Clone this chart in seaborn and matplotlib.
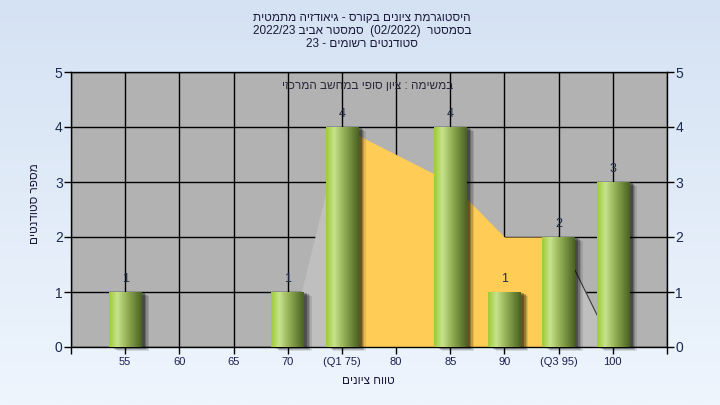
import re
import numpy as np
import seaborn as sns
import matplotlib.pyplot as plt
import matplotlib.patheffects as pe
from matplotlib.colors import LinearSegmentedColormap

# data
categories = ['55', '60', '65', '70', '(Q1 75)', '80', '85', '90', '(Q3 95)', '100']
counts = [1, 0, 0, 1, 4, 0, 4, 1, 2, 3]
curve = [np.nan, np.nan, np.nan, 0, 4, 3.5, 3, 2, 2, 0]
q1_idx, q3_idx = 4, 8

title_lines = [
    'היסטוגרמת ציונים בקורס - גיאודזיה מתמטית',
    'בסמסטר  (02/2022)  סמסטר אביב 2022/23',
    'סטודנטים רשומים - 23',
]
task_text = 'במשימה : ציון סופי במחשב המרכזי'
x_label = 'טווח ציונים'
y_label = 'מספר סטודנטים'


def rtl(s):
    # matplotlib has no bidi: reverse, then put number runs and brackets back
    r = s[::-1]
    r = re.sub(r'[0-9/.]+', lambda m: m.group(0)[::-1], r)
    return r.translate(str.maketrans('()', ')('))


sns.set_theme(style='white')
plt.rcParams['font.family'] = ['Liberation Sans', 'DejaVu Sans']

fig = plt.figure(figsize=(7.2, 4.05), dpi=100)

# light blue gradient background
bg = fig.add_axes([0, 0, 1, 1], zorder=-10)
bg_cmap = LinearSegmentedColormap.from_list('bg', ['#d5e2f3', '#eef5fd'])
bg.imshow(np.linspace(0, 1, 256).reshape(-1, 1), aspect='auto', cmap=bg_cmap,
          extent=[0, 1, 0, 1], origin='upper')
bg.axis('off')

ax = fig.add_axes([71 / 720, 58 / 405, 596 / 720, 275 / 405])
ax.set_facecolor('#b2b2b2')

sns.barplot(x=categories, y=counts, order=categories, width=0.6,
            color='#8fb840', linewidth=0, ax=ax, zorder=5)

# distribution area behind the bars
xs = np.arange(len(categories))
cv = np.array(curve)
ax.fill_between(xs[q1_idx - 1:q1_idx + 1], cv[q1_idx - 1:q1_idx + 1],
                color='#bfbfbf', lw=0, zorder=1)
ax.fill_between(xs[q1_idx:q3_idx + 1], cv[q1_idx:q3_idx + 1],
                color='#ffcc55', lw=0, zorder=1.1)
ax.fill_between(xs[q3_idx:q3_idx + 2], cv[q3_idx:q3_idx + 2],
                color='#bfbfbf', lw=0, zorder=1)
ax.plot(xs[q3_idx:q3_idx + 2], cv[q3_idx:q3_idx + 2], color='#3a3a3a', lw=0.8, zorder=1.2)

# gradient fill + soft shadow on the bars
bar_cmap = LinearSegmentedColormap.from_list(
    'bar', [(0, '#9ccb36'), (0.25, '#c8e38c'), (0.55, '#93b055'), (1, '#4a6222')])
for p, v in zip(ax.patches, counts):
    if v == 0:
        p.set_visible(False)
        continue
    p.set_clip_on(False)
    p.set_edgecolor('none')
    p.set_path_effects([
        pe.SimplePatchShadow(offset=(5.5, -3), shadow_rgbFace='black', alpha=0.10),
        pe.SimplePatchShadow(offset=(4.5, -2.5), shadow_rgbFace='black', alpha=0.15),
        pe.SimplePatchShadow(offset=(3.5, -1.5), shadow_rgbFace='black', alpha=0.22),
        pe.SimplePatchShadow(offset=(2.5, -1), shadow_rgbFace='black', alpha=0.3),
        pe.Normal()])
    x0, w, h = p.get_x(), p.get_width(), p.get_height()
    im = ax.imshow(np.linspace(0, 1, 100).reshape(1, -1), cmap=bar_cmap,
                   extent=[x0, x0 + w, 0, h], aspect='auto', zorder=6,
                   interpolation='bicubic')
    im.set_clip_path(p)
    ax.text(x0 + w / 2, h + 0.12, str(v), ha='center', va='bottom',
            fontsize=9, color='#1e2c44', zorder=7)

ax.set_xlim(-1, 10)
ax.set_ylim(0, 5)
ax.set_xticks(range(-1, 11))
ax.set_xticklabels([''] + categories + [''])
ax.set_yticks(range(0, 6))
ax.set_axisbelow(True)
ax.grid(True, color='black', lw=1)
ax.set_xlabel('')
ax.set_ylabel('')
for s in ax.spines.values():
    s.set_color('black')
    s.set_linewidth(1)
ax.tick_params(axis='y', left=True, right=True, labelright=True, direction='out',
               length=5, width=1, color='black', labelsize=10, labelcolor='#1a2a50', pad=1)
ax.tick_params(axis='x', bottom=True, direction='out', length=5, width=1,
               color='black', labelsize=8, labelcolor='#1a2050', pad=2)

ax.text(0.498, 0.949, rtl(task_text), transform=ax.transAxes, ha='center',
        va='center', fontsize=8.5, color='#2a2a3a', zorder=8)

for i, line in enumerate(title_lines):
    fig.text(362 / 720, 1 - (18 + 13 * i) / 405, rtl(line), ha='center',
             va='center', fontsize=8.5, color='#1a1a3a')
fig.text(368 / 720, 1 - 381 / 405, rtl(x_label), ha='center', va='center',
         fontsize=8.5, color='#1a1a3a')
fig.text(35 / 720, 1 - 204 / 405, rtl(y_label), ha='center', va='center',
         rotation=90, fontsize=8.5, color='#1a1a3a')

fig.savefig('out.png', dpi=100)
